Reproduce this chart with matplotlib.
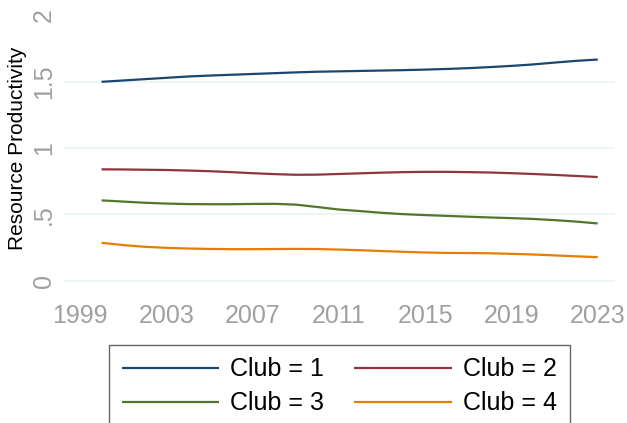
import numpy as np
import matplotlib
matplotlib.use("Agg")
import matplotlib.pyplot as plt

plt.rcParams['font.family'] = ['Liberation Sans', 'DejaVu Sans']

# values
years = list(range(2000, 2024))
club1 = [1.500, 1.510, 1.520, 1.530, 1.540, 1.547, 1.553, 1.559, 1.565, 1.571, 1.576, 1.579,
         1.582, 1.585, 1.588, 1.592, 1.597, 1.603, 1.611, 1.620, 1.631, 1.645, 1.658, 1.668]
club2 = [0.840, 0.839, 0.837, 0.835, 0.831, 0.826, 0.819, 0.811, 0.804, 0.799, 0.800, 0.805,
         0.810, 0.815, 0.819, 0.821, 0.821, 0.819, 0.816, 0.811, 0.805, 0.798, 0.790, 0.782]
club3 = [0.606, 0.597, 0.588, 0.582, 0.578, 0.577, 0.577, 0.579, 0.580, 0.574, 0.556, 0.537,
         0.525, 0.512, 0.502, 0.495, 0.489, 0.483, 0.477, 0.472, 0.466, 0.457, 0.446, 0.432]
club4 = [0.286, 0.269, 0.256, 0.248, 0.243, 0.240, 0.238, 0.238, 0.239, 0.240, 0.239, 0.235,
         0.230, 0.224, 0.218, 0.213, 0.210, 0.209, 0.207, 0.203, 0.198, 0.191, 0.184, 0.178]

series = [club1, club2, club3, club4]
labels = ['Club = 1', 'Club = 2', 'Club = 3', 'Club = 4']
colors = ['#1a476f', '#90353b', '#55752f', '#e37e00']

xticks = [1999, 2003, 2007, 2011, 2015, 2019, 2023]
yticks = [0, 0.5, 1, 1.5, 2]
ytick_labels = ['0', '.5', '1', '1.5', '2']
grid_vals = [0, 0.5, 1, 1.5]

W, H = 627, 423
fig = plt.figure(figsize=(W / 100, H / 100), dpi=100)
fig.patch.set_facecolor('white')

ax = fig.add_axes([64 / W, 1 - 294 / H, (615 - 64) / W, (294 - 15.5) / H])
ax.set_xlim(1998.26, 2023.8)
ax.set_ylim(-0.1, 2.0)

for g in grid_vals:
    ax.axhline(g, color='#eaf2f3', lw=1.1, zorder=0)

for vals, lab, c in zip(series, labels, colors):
    ax.plot(years, vals, color=c, lw=1.6, label=lab, solid_capstyle='butt')

for s in ax.spines.values():
    s.set_visible(False)

ax.set_xticks(xticks)
ax.set_xticklabels([str(x) for x in xticks], fontsize=18, color='#a0a0a0')
ax.set_yticks(yticks)
ax.set_yticklabels(ytick_labels, fontsize=18, color='#a0a0a0', rotation=90, va='center')
ax.tick_params(axis='both', length=0)
ax.tick_params(axis='x', pad=7)
ax.tick_params(axis='y', pad=6)

fig.text(18 / W, 1 - 148 / H, 'Resource Productivity', rotation=90,
         ha='center', va='center', fontsize=15, color='black')

# legend fills row by row: 1 2 / 3 4
handles, labs = ax.get_legend_handles_labels()
order = [0, 2, 1, 3]
leg = fig.legend([handles[i] for i in order], [labs[i] for i in order],
                 loc='upper left', bbox_to_anchor=(109 / W, 1 - 345 / H),
                 ncol=2, fontsize=18, frameon=True, fancybox=False,
                 handlelength=3.9, handletextpad=0.45, columnspacing=1.2,
                 labelspacing=0.4, borderpad=0.5, borderaxespad=0)
leg.get_frame().set_edgecolor('#404040')
leg.get_frame().set_linewidth(1.0)

fig.savefig('out.png', dpi=100, facecolor='white')
